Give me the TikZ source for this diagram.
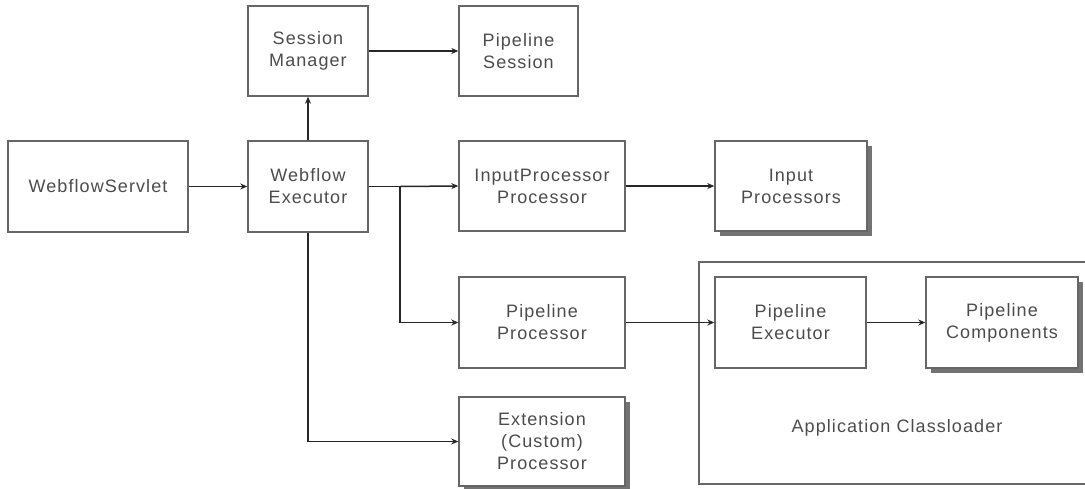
\documentclass[tikz,border=0pt]{standalone}
\usepackage{fontspec}
\setmainfont[LetterSpace=6]{Liberation Sans}
\usetikzlibrary{arrows.meta,shadows}

\begin{document}
\begin{tikzpicture}[x=1pt,y=-1pt,
  box/.style={draw=black!60,line width=1.4pt,fill=white,rectangle,inner sep=0pt,
    align=center,text=black!70,font=\fontsize{18}{22}\selectfont},
  shadowbox/.style={box,drop shadow={shadow xshift=5pt,shadow yshift=-5pt,fill=black!55,opacity=1}},
  link/.style={draw=black!85,line width=1.5pt,-{Stealth[length=7pt,width=6pt]}},
  plain/.style={draw=black!85,line width=1.5pt}]
\useasboundingbox (0,0) rectangle (1085,488);

% application classloader container (runs off the right edge)
\draw[draw=black!60,line width=1.3pt] (1090,262) -- (699,262) -- (699,484) -- (1090,484);
\node[text=black!70,font=\fontsize{18}{22}\selectfont] (acl) at (897,428) {Application Classloader};

% boxes
\node[box,minimum width=180pt,minimum height=91pt] (servlet) at (98,186.5) {WebflowServlet};
\node[box,minimum width=120pt,minimum height=91pt] (exec) at (308,186.5) {Webflow\\Executor};
\node[box,minimum width=120pt,minimum height=90pt] (sessmgr) at (308,51) {Session\\Manager};
\node[box,minimum width=119pt,minimum height=90pt] (psession) at (518.5,51) {Pipeline\\Session};
\node[box,minimum width=166pt,minimum height=90pt] (ipp) at (542,186) {InputProcessor\\Processor};
\node[shadowbox,minimum width=152pt,minimum height=90pt] (inputs) at (791,186) {Input\\Processors};
\node[box,minimum width=166pt,minimum height=91pt] (pproc) at (542,322.5) {Pipeline\\Processor};
\node[box,minimum width=151pt,minimum height=91pt] (pexec) at (790.5,322.5) {Pipeline\\Executor};
\node[shadowbox,minimum width=152pt,minimum height=91pt] (pcomp) at (1002,322.5) {Pipeline\\Components};
\node[shadowbox,minimum width=166pt,minimum height=89pt] (ext) at (542,441.5) {Extension\\(Custom)\\Processor};

% branch point on the executor's output line
\coordinate (fork) at (400,186.5);

% connectors
\draw[link] (servlet) -- (exec);
\draw[link] (exec) -- (sessmgr);
\draw[link] (sessmgr) -- (psession);
\draw[plain] (exec.east) -- (fork);
\draw[link] (fork) -- (ipp.west);
\draw[link] (fork) |- (pproc.west);
\draw[link] (exec.south) |- (ext.west);
\draw[link] (ipp) -- (inputs);
\draw[link] (pproc.east) -- (pexec.west);
\draw[link] (pexec) -- (pcomp);
\end{tikzpicture}
\end{document}
